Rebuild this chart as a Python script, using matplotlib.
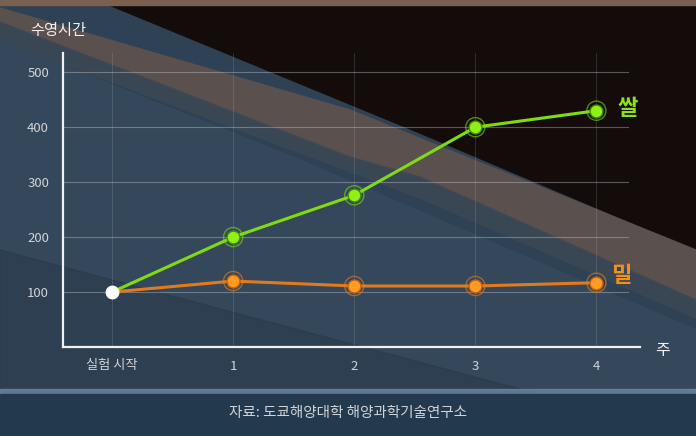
import matplotlib
matplotlib.use("Agg")
import matplotlib.pyplot as plt
from matplotlib.patches import Polygon, Rectangle
import numpy as np

plt.rcParams['font.family'] = ['Noto Sans CJK KR', 'DejaVu Sans']

x_labels = ['실험 시작', '1', '2', '3', '4']
rice = [100, 200, 276, 400, 430]
wheat = [100, 120, 111, 111, 117]
y_ticks = [100, 200, 300, 400, 500]

W, H = 696, 436
fig = plt.figure(figsize=(W / 100, H / 100), dpi=100)
fig.patch.set_facecolor('#2a3a4c')

# background decoration in pixel coordinates
bg = fig.add_axes([0, 0, 1, 1], zorder=0)
bg.set_xlim(0, W)
bg.set_ylim(H, 0)
bg.axis('off')
bg.add_patch(Rectangle((0, 0), W, H, color='#2f4154'))
bg.add_patch(Polygon([(0, 40), (300, 160), (696, 330), (696, 436), (0, 436)], color='#3a4d60', alpha=0.55))
bg.add_patch(Polygon([(0, 250), (696, 436), (0, 436)], color='#27384a', alpha=0.5))
# dark upper-right region
bg.add_patch(Polygon([(150, 0), (696, 0), (696, 250), (420, 133), (0, -40)], color='#140c0a'))
# beam
bg.add_patch(Polygon([(0, 8), (350, 110), (696, 250), (696, 300), (420, 177), (350, 157), (0, 22)], color='#5a504e'))
bg.add_patch(Polygon([(0, 22), (350, 157), (420, 177), (696, 300), (696, 318), (420, 198), (0, 40)], color='#3c4854', alpha=0.8))
bg.add_patch(Rectangle((0, 0), W, 5, color='#7a6050'))
# lower band
bg.add_patch(Rectangle((0, 389), W, 5, color='#6a88a0', alpha=0.8))
bg.add_patch(Rectangle((0, 394), W, 42, color='#233a4e'))

ax = fig.add_axes([63 / W, 1 - 347 / H, (640 - 63) / W, (347 - 53) / H], zorder=1)
ax.patch.set_alpha(0)
xs = np.arange(len(x_labels))
ax.set_xlim(-0.405, 4.36)
ax.set_ylim(0, 535)

# grid
for yv in y_ticks:
    ax.plot([-0.405, 4.26], [yv, yv], color='#c8c8d0', lw=0.8, alpha=0.4, zorder=1)
for xv in xs:
    ax.axvline(xv, color='#c8c8d0', lw=0.6, alpha=0.2, zorder=1)

# lines
ax.plot(xs, wheat, color='#e07a1c', lw=2.2, zorder=3)
ax.plot(xs, rice, color='#7fdc10', lw=2.2, zorder=3)
# markers with halo
ax.scatter(xs[1:], wheat[1:], s=190, facecolor='none', edgecolor='#e8801e', lw=1.0, alpha=0.6, zorder=4)
ax.scatter(xs[1:], wheat[1:], s=85, color='#ff9a22', edgecolor='#c86010', lw=1, zorder=5)
ax.scatter(xs[1:], rice[1:], s=190, facecolor='none', edgecolor='#7fdc10', lw=1.0, alpha=0.6, zorder=4)
ax.scatter(xs[1:], rice[1:], s=85, color='#8ef014', edgecolor='#3e8a08', lw=1, zorder=5)
ax.scatter([xs[0]], [rice[0]], s=80, color='white', zorder=6)

# series labels
ax.text(4.17, rice[-1] + 4, '쌀', color='#8ee018', fontsize=16, fontweight='bold', va='center', ha='left')
ax.text(4.12, wheat[-1] + 14, '밀', color='#f0901e', fontsize=16, fontweight='bold', va='center', ha='left')

# axes
for s in ['top', 'right']:
    ax.spines[s].set_visible(False)
for s in ['left', 'bottom']:
    ax.spines[s].set_color('#f0f0f0')
    ax.spines[s].set_linewidth(1.6)
ax.set_xticks(xs)
ax.set_xticklabels(x_labels)
ax.set_yticks(y_ticks)
ax.tick_params(length=0, colors='#d0d4d8', labelsize=9.5, pad=10)
ax.tick_params(axis='x', pad=9)

fig.text(30 / W, 1 - 30 / H, '수영시간', color='#f0f0f0', fontsize=11, va='center', ha='left')
fig.text(663 / W, 1 - 350 / H, '주', color='#f0f0f0', fontsize=11.5, va='center', ha='center')
fig.text(348 / W, 1 - 413 / H, '자료: 도쿄해양대학 해양과학기술연구소', color='#d0d4d8', fontsize=10.5, va='center', ha='center')

fig.savefig('out.png', dpi=100, facecolor=fig.get_facecolor())
